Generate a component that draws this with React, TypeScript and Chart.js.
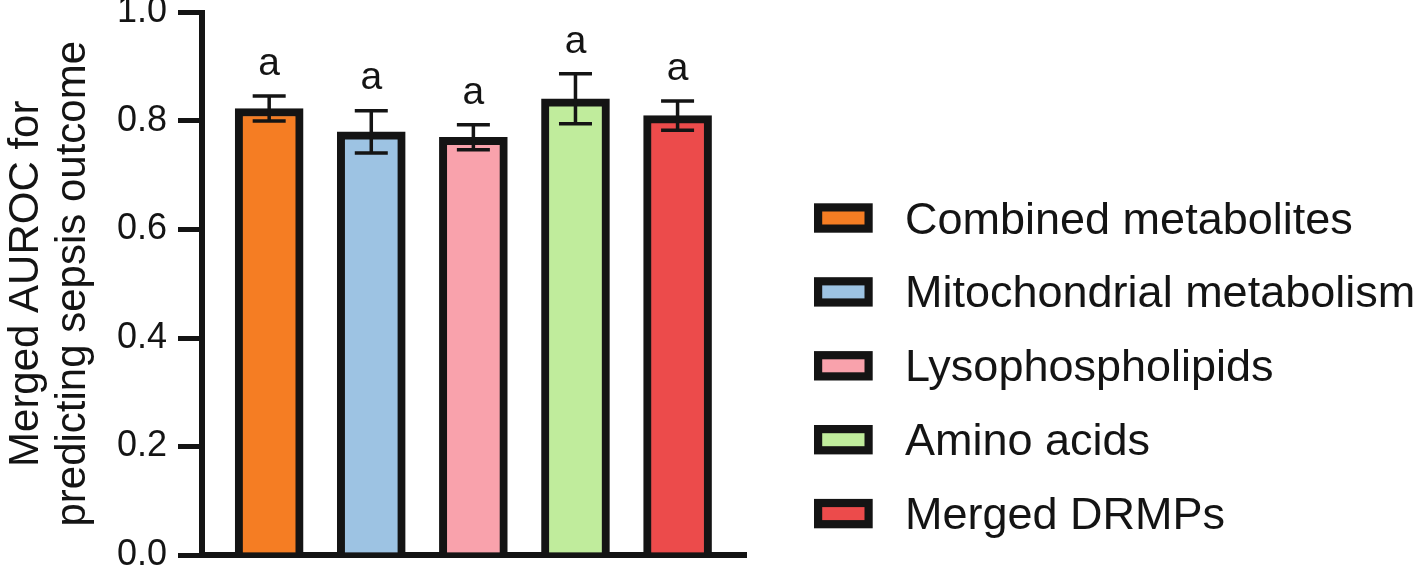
import React, { useEffect, useRef } from "react";
import { Chart, registerables } from "chart.js";

Chart.register(...registerables);

const categories = [
  "Combined metabolites",
  "Mitochondrial metabolism",
  "Lysophospholipids",
  "Amino acids",
  "Merged DRMPs",
];
const meanValues = [0.823, 0.78, 0.77, 0.841, 0.81];
const errorValues = [0.023, 0.039, 0.023, 0.046, 0.027];
const letters = ["a", "a", "a", "a", "a"];
const barColors = ["#F57D23", "#9DC3E3", "#F9A2AC", "#C0EC9C", "#EC4B4B"];
const yTickLabels = ["0.0", "0.2", "0.4", "0.6", "0.8", "1.0"];
const yTitle = ["Merged AUROC for", "predicting sepsis outcome"];

const INK = "#141414";
const FONT = "'Liberation Sans', Arial, Helvetica, sans-serif";

const W = 1418;
const H = 571;

const overlayPlugin = {
  id: "overlay",
  afterDatasetsDraw(chart: any) {
    const ctx = chart.ctx;
    const meta = chart.getDatasetMeta(0);
    const ys = chart.scales.y;
    ctx.save();
    ctx.strokeStyle = INK;
    ctx.fillStyle = INK;
    ctx.lineWidth = 3.5;
    ctx.lineCap = "butt";
    meanValues.forEach((m, i) => {
      const bar = meta.data[i];
      const x = bar.x;
      const yHi = ys.getPixelForValue(m + errorValues[i]);
      const yLo = ys.getPixelForValue(m - errorValues[i]);
      const cap = 16.5;
      ctx.beginPath();
      ctx.moveTo(x, yHi);
      ctx.lineTo(x, yLo);
      ctx.moveTo(x - cap, yHi);
      ctx.lineTo(x + cap, yHi);
      ctx.moveTo(x - cap, yLo);
      ctx.lineTo(x + cap, yLo);
      ctx.stroke();
      ctx.font = `39px ${FONT}`;
      ctx.textAlign = "center";
      ctx.textBaseline = "middle";
      ctx.fillText(letters[i], x, yHi - 32);
    });
    ctx.restore();
  },
  afterDraw(chart: any) {
    const ctx = chart.ctx;
    ctx.save();
    const boxL = 814;
    const boxW = 58.7;
    const boxH = 29.4;
    const bw = 8.2;
    categories.forEach((label, i) => {
      const cy = 218 + i * 73.9;
      ctx.fillStyle = INK;
      ctx.fillRect(boxL, cy - boxH / 2, boxW, boxH);
      ctx.fillStyle = barColors[i];
      ctx.fillRect(boxL + bw, cy - boxH / 2 + bw, boxW - 2 * bw, boxH - 2 * bw);
      ctx.fillStyle = INK;
      ctx.font = `45px ${FONT}`;
      ctx.textAlign = "left";
      ctx.textBaseline = "alphabetic";
      ctx.fillText(label, 905, cy + 15.5);
    });
    ctx.restore();
  },
};

export default function App() {
  const ref = useRef<HTMLCanvasElement | null>(null);

  useEffect(() => {
    if (!ref.current) return;
    const chart = new Chart(ref.current, {
      type: "bar",
      data: {
        labels: categories,
        datasets: [
          {
            label: "Merged AUROC",
            data: meanValues.map((v, i) => ({ x: i, y: v })) as any,
            backgroundColor: barColors,
            borderColor: INK,
            borderWidth: 8,
            borderSkipped: "start",
            barThickness: 68,
          },
        ],
      },
      options: {
        animation: false,
        responsive: false,
        devicePixelRatio: 1,
        layout: {
          padding: { left: 0, right: W - 747, top: 12.5, bottom: H - 555 },
        },
        plugins: {
          legend: { display: false },
          tooltip: { enabled: false },
        },
        scales: {
          x: {
            type: "linear",
            min: -0.658,
            max: 4.68,
            offset: false,
            z: 1,
            ticks: { display: false },
            grid: {
              display: true,
              offset: false,
              drawOnChartArea: false,
              drawTicks: false,
              lineWidth: 0,
            },
            border: { display: true, width: 6, color: INK },
            afterFit: (s: any) => {
              s.height = 0;
              s.paddingLeft = 0;
              s.paddingRight = 0;
            },
          },
          y: {
            type: "linear",
            min: 0,
            max: 1,
            z: 1,
            ticks: {
              stepSize: 0.2,
              color: INK,
              font: { family: FONT, size: 36 },
              padding: 11,
              callback: (_v: any, idx: number) => yTickLabels[idx],
            },
            grid: {
              display: true,
              drawOnChartArea: false,
              drawTicks: true,
              tickLength: 24,
              tickWidth: 5,
              tickColor: INK,
              lineWidth: 5,
              color: INK,
            },
            border: { display: true, width: 6, color: INK },
            title: {
              display: true,
              text: yTitle,
              color: INK,
              font: { family: FONT, size: 42, lineHeight: 1.12 },
              padding: { top: 2.5, bottom: 0 },
            },
            afterFit: (s: any) => {
              s.width = 202;
              s.paddingTop = 0;
              s.paddingBottom = 0;
            },
          },
        },
      },
      plugins: [overlayPlugin],
    });
    return () => chart.destroy();
  }, []);

  return (
    <div
      style={{
        position: "fixed",
        left: 0,
        top: 0,
        width: W,
        height: H,
        background: "#fff",
      }}
    >
      <canvas ref={ref} width={W} height={H} style={{ width: W, height: H }} />
    </div>
  );
}
